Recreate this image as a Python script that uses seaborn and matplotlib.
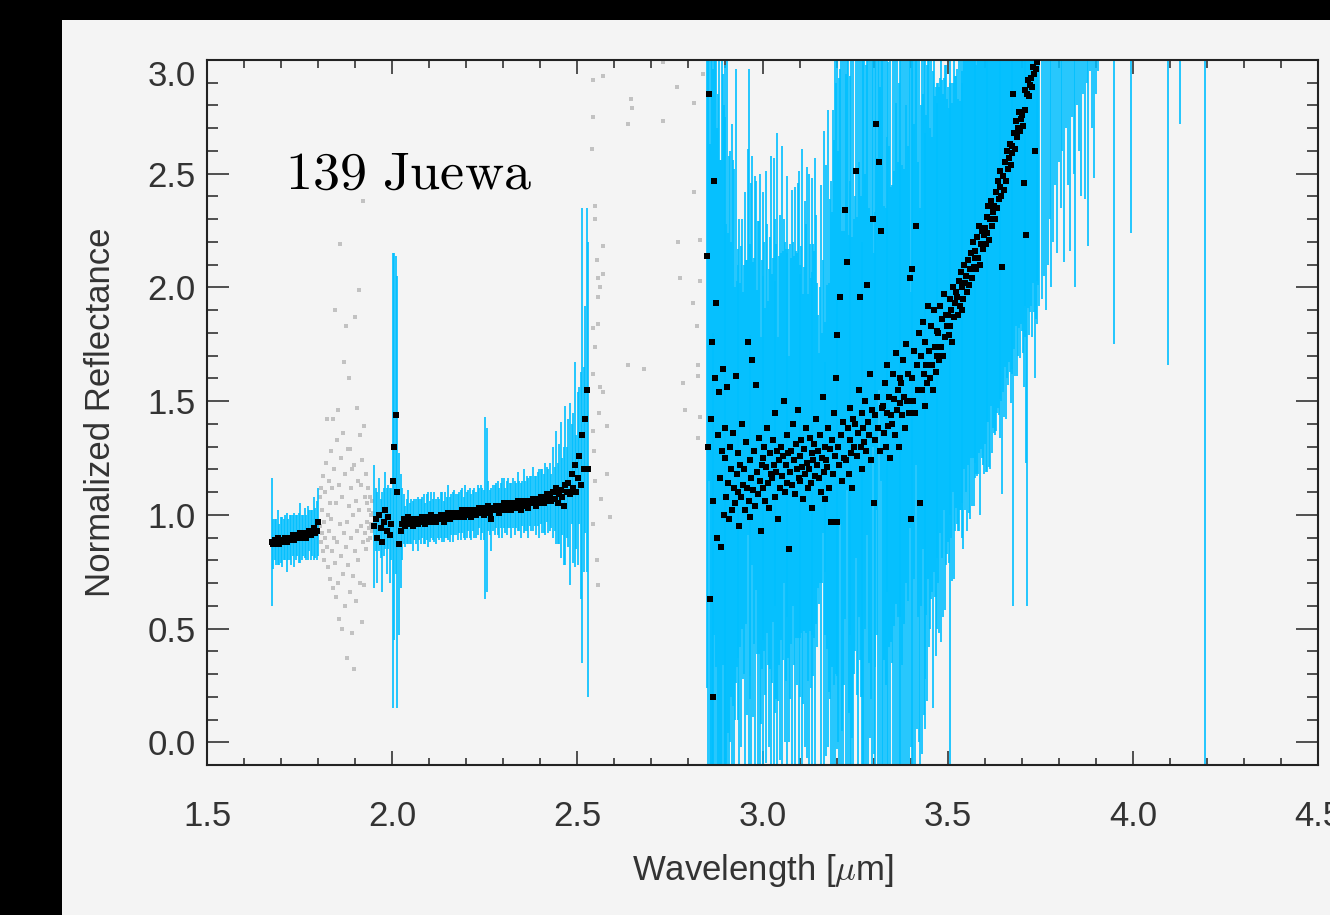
import numpy as np
import pandas as pd
import matplotlib
matplotlib.use("Agg")
import matplotlib.pyplot as plt
import seaborn as sns
from matplotlib.patches import Rectangle
from matplotlib.ticker import MultipleLocator

# ---------------- data ----------------
# segment 1 : 1.675 - 1.800 um
seg1_start, seg1_stop = 1.675, 1.800
r1 = [0.88, 0.87, 0.89, 0.88, 0.90, 0.87, 0.89, 0.88, 0.89, 0.90, 0.88, 0.89, 0.90, 0.89, 0.91, 0.89,
      0.90, 0.91, 0.90, 0.92, 0.90, 0.91, 0.92, 0.90, 0.92, 0.93, 0.91, 0.92, 0.94, 0.92, 0.93, 0.97]
e1 = [0.28, 0.11, 0.09, 0.10, 0.12, 0.09, 0.10, 0.11, 0.09, 0.10, 0.13, 0.09, 0.10, 0.11, 0.09, 0.12,
      0.10, 0.09, 0.11, 0.13, 0.10, 0.09, 0.11, 0.10, 0.12, 0.09, 0.11, 0.10, 0.14, 0.11, 0.13, 0.15]

# excluded (grey) points 1.805 - 1.948 um
gray2_start, gray2_stop = 1.805, 1.948
g2 = [0.95, 1.08, 0.88, 1.12, 0.92, 1.02, 0.84, 1.17, 0.97, 0.80,
      1.10, 0.90, 1.23, 0.86, 1.42, 1.00, 0.77, 1.15, 0.93, 1.05,
      0.72, 1.28, 0.98, 0.84, 1.12, 0.68, 1.42, 0.90, 1.20, 0.79,
      1.90, 0.64, 1.05, 1.33, 0.88, 1.46, 0.70, 1.13, 0.54, 0.96,
      2.19, 0.82, 1.25, 0.50, 1.08, 0.74, 1.36, 0.92, 1.67, 0.60,
      1.18, 0.86, 1.83, 0.97, 0.37, 1.29, 0.78, 1.60, 1.04, 0.66,
      1.29, 0.90, 1.12, 0.48, 1.20, 0.73, 1.00, 0.32, 1.22, 0.84,
      1.87, 1.06, 0.62, 1.47, 0.93, 1.15, 0.80, 1.99, 1.02, 0.70,
      1.35, 0.95, 1.13, 0.53, 1.24, 0.88, 2.38, 1.39, 0.69, 1.08,
      0.92, 1.18, 0.85, 1.05, 0.97, 1.12, 0.89, 1.02, 0.94, 1.08,
      0.90, 1.00, 0.96, 1.06, 0.93, 1.01]

# segment 3 : 1.952 - 2.530 um
seg3_start, seg3_stop = 1.952, 2.530
r3 = [0.95, 0.98, 0.90, 1.00, 0.94, 0.88, 0.97, 1.02, 0.93, 0.99, 0.91, 0.96,
      1.15, 1.30, 1.44, 1.10, 0.87, 0.93,
      0.96, 0.98, 0.95, 0.97, 0.99, 0.96, 0.97, 0.95, 0.98, 0.97, 0.96, 0.98,
      0.97, 0.99, 0.98, 0.96, 0.99, 0.98, 0.97, 1.00, 0.98, 0.99, 0.97, 0.99,
      0.98, 1.00, 0.99, 0.97, 1.00, 0.99, 1.01, 0.98, 1.00, 0.99, 1.01, 1.00,
      0.99, 1.01, 1.00, 1.02, 0.99, 1.01, 1.00, 1.02, 1.01, 0.99, 1.02, 1.01,
      1.00, 1.02, 1.03, 1.01, 1.02, 1.00, 1.03, 1.02, 1.04, 1.01, 0.98, 1.03,
      1.02, 1.04, 1.03, 1.01, 1.04, 1.03, 1.05, 1.02, 1.03, 1.05, 1.04, 1.02,
      1.05, 1.03, 1.04, 1.06, 1.04, 1.02, 1.05, 1.06, 1.04, 1.05, 1.03, 1.06,
      1.05, 1.07, 1.06, 1.04, 1.07, 1.05, 1.08, 1.06, 1.05, 1.07, 1.09, 1.06,
      1.08, 1.06, 1.10, 1.07, 1.12, 1.05, 1.09, 1.11, 1.08, 1.04, 1.13, 1.10,
      1.14, 1.09, 1.18, 1.12, 1.22, 1.10, 1.16, 1.26, 1.13, 1.35, 1.20, 1.42, 1.55, 1.20]
e3 = [0.27, 0.14, 0.20, 0.16, 0.13, 0.22, 0.15, 0.17, 0.19, 0.14, 0.21, 0.16,
      1.00, 0.85, 0.70, 0.95, 0.40, 0.25,
      0.16, 0.11, 0.09, 0.10, 0.12, 0.09, 0.10, 0.11, 0.09, 0.10, 0.12, 0.09,
      0.10, 0.09, 0.11, 0.09, 0.10, 0.12, 0.09, 0.10, 0.09, 0.11, 0.10, 0.09,
      0.09, 0.10, 0.11, 0.09, 0.10, 0.09, 0.12, 0.10, 0.09, 0.11, 0.10, 0.09,
      0.10, 0.09, 0.11, 0.10, 0.09, 0.12, 0.10, 0.09, 0.11, 0.10, 0.09, 0.11,
      0.10, 0.11, 0.09, 0.12, 0.10, 0.11, 0.40, 0.36, 0.11, 0.10, 0.14, 0.10,
      0.11, 0.10, 0.12, 0.11, 0.10, 0.13, 0.11, 0.10, 0.12, 0.11, 0.10, 0.12,
      0.11, 0.12, 0.10, 0.13, 0.11, 0.12, 0.10, 0.14, 0.11, 0.12, 0.13, 0.11,
      0.12, 0.14, 0.11, 0.13, 0.12, 0.15, 0.12, 0.14, 0.13, 0.16, 0.12, 0.14,
      0.15, 0.12, 0.20, 0.14, 0.25, 0.18, 0.22, 0.30, 0.17, 0.26, 0.35, 0.20,
      0.28, 0.40, 0.22, 0.33, 0.45, 0.25, 0.38, 0.30, 0.50, 1.00, 0.45, 0.50, 0.80, 1.00]

# excluded (grey) points 2.54 - 2.85 um
lam4 = [2.543, 2.570, 2.543, 2.539, 2.646, 2.648, 2.638, 2.732, 2.768, 2.816, 2.840, 2.730,
        2.549, 2.549, 2.570, 2.554, 2.568, 2.557, 2.560, 2.557, 2.557, 2.541, 2.549, 2.543, 2.570,
        2.559, 2.581, 2.543, 2.549,
        2.638, 2.681, 2.786, 2.791, 2.816, 2.773, 2.830, 2.778, 2.830, 2.813, 2.824, 2.827, 2.827,
        2.830, 2.827,
        2.554, 2.557, 2.560, 2.581, 2.565, 2.587, 2.543, 2.546]
r4 = [2.91, 2.93, 2.75, 2.61, 2.83, 2.79, 2.72, 2.73, 2.88, 2.81, 2.94, 2.99,
      2.36, 2.30, 2.18, 2.12, 2.06, 2.04, 2.00, 1.96, 1.84, 1.82, 1.74, 1.62, 1.54,
      1.45, 1.39, 1.37, 1.15,
      1.66, 1.64, 1.58, 1.46, 2.42, 2.20, 2.21, 2.04, 2.03, 1.93, 1.83, 1.66, 1.61,
      1.43, 1.34,
      0.80, 0.69, 1.56, 1.18, 1.07, 0.99, 0.96, 1.28]

# segment 5 : 2.850 - 3.7475 um
seg5_start, seg5_stop = 2.850, 3.7475
r5 = [2.14, 1.30, 2.85, 0.63, 1.42, 1.76, 0.20, 1.06, 2.47, 1.60,
      1.93, 0.90, 1.35, 1.54, 1.16, 0.86, 1.28, 1.64, 1.00, 1.38,
      1.25, 1.08, 1.56, 1.14, 0.98, 1.30, 1.20, 1.02, 1.36, 1.12,
      1.05, 1.61, 1.18, 1.10, 1.27, 0.95, 1.22, 1.08, 1.40, 1.13,
      1.20, 1.02, 1.32, 1.12, 1.76, 1.06, 1.24, 0.99, 1.16, 1.68,
      1.11, 1.28, 1.04, 1.57, 1.19, 1.09, 1.34, 1.15, 0.93, 1.22,
      1.25, 1.12, 1.30, 1.06, 1.21, 1.38, 1.14, 1.03, 1.27, 1.18,
      1.16, 1.33, 1.22, 1.08, 1.45, 1.19, 1.28, 0.98, 1.24, 1.12,
      1.30, 1.17, 1.26, 1.50, 1.10, 1.22, 1.35, 1.14, 1.27, 0.85,
      1.19, 1.28, 1.13, 1.40, 1.24, 1.09, 1.31, 1.20, 1.46, 1.16,
      1.26, 1.15, 1.33, 1.21, 1.07, 1.29, 1.18, 1.38, 1.23, 1.12,
      1.20, 1.34, 1.14, 1.27, 1.03, 1.24, 1.31, 1.17, 1.42, 1.22,
      1.28, 1.16, 1.35, 1.10, 1.25, 1.52, 1.19, 1.30, 1.07, 1.24,
      1.21, 1.38, 1.12, 1.29, 0.97, 1.33, 1.18, 1.45, 1.26, 1.60,
      1.79, 0.97, 1.30, 1.22, 1.96, 1.35, 1.15, 1.41, 1.25, 2.34,
      1.24, 2.11, 1.38, 1.18, 1.33, 1.47, 1.27, 1.12, 1.42, 1.30,
      1.40, 2.51, 1.26, 1.36, 1.55, 1.96, 1.30, 1.45, 1.20, 1.38,
      1.32, 1.50, 1.28, 2.01, 1.41, 1.35, 1.62, 1.24, 1.46, 2.30,
      1.05, 1.44, 1.33, 2.72, 1.52, 1.38, 2.55, 1.28, 2.25, 1.47,
      1.48, 1.36, 1.58, 1.30, 1.45, 1.66, 1.39, 1.52, 1.25, 1.44,
      1.40, 1.62, 1.51, 1.35, 1.71, 1.46, 1.55, 1.30, 1.60, 1.49,
      1.58, 1.44, 1.68, 1.52, 1.38, 1.75, 1.50, 1.62, 1.45, 2.04,
      0.98, 1.60, 2.08, 1.50, 1.72, 1.45, 2.27, 1.66, 1.55, 1.80,
      1.05, 1.70, 1.55, 1.85, 1.62, 1.48, 1.76, 1.66, 1.58, 1.92,
      1.72, 1.60, 1.83, 1.66, 1.55, 1.90, 1.74, 1.63, 1.81, 1.70,
      1.80, 1.68, 1.92, 1.74, 1.86, 1.70, 1.97, 1.78, 1.88, 1.83,
      1.88, 1.79, 1.95, 1.83, 1.90, 1.76, 2.00, 1.87, 1.93, 1.98,
      1.96, 1.88, 2.03, 1.92, 2.07, 1.90, 2.00, 1.95, 2.10, 2.02,
      2.05, 1.98, 2.12, 2.01, 2.08, 2.15, 2.04, 2.20, 2.09, 2.13,
      2.16, 2.08, 2.22, 2.13, 2.27, 2.10, 2.19, 2.25, 2.17, 2.23,
      2.26, 2.19, 2.31, 2.24, 2.36, 2.21, 2.30, 2.38, 2.27, 2.33,
      2.36, 2.30, 2.42, 2.35, 2.47, 2.39, 2.44, 2.51, 2.40, 2.09,
      2.49, 2.43, 2.55, 2.47, 2.60, 2.52, 2.57, 2.63, 2.54, 2.59,
      2.62, 2.85, 2.68, 2.61, 2.73, 2.66, 2.70, 2.77, 2.69, 2.74,
      2.76, 2.71, 2.46, 2.78, 2.87, 2.23, 2.85, 2.91, 2.84, 2.89,
      2.92, 2.88, 2.97, 2.94, 2.60, 2.96, 3.03, 2.99, 3.06, 3.02]
e5 = [1.90, 2.10, 1.70, 2.00, 1.80, 2.20, 1.60, 1.90, 2.00, 1.75,
      1.60, 1.80, 1.50, 2.00, 1.40, 1.70, 1.90, 1.30, 1.80, 1.60,
      1.50, 1.20, 1.90, 1.10, 1.60, 1.30, 1.00, 1.70, 1.20, 1.40,
      0.95, 1.35, 0.85, 1.00, 0.90, 1.35, 0.80, 1.10, 0.90, 0.85,
      0.90, 1.40, 0.80, 1.00, 0.85, 1.90, 0.95, 0.80, 1.30, 0.90,
      1.00, 0.85, 1.45, 0.90, 0.80, 1.20, 0.95, 1.35, 0.85, 0.90,
      0.80, 1.30, 0.90, 0.85, 1.30, 0.90, 0.80, 1.05, 0.95, 1.40,
      0.90, 0.80, 1.35, 0.95, 0.85, 1.00, 1.40, 0.80, 0.90, 1.20,
      0.85, 1.45, 0.90, 0.80, 1.10, 0.95, 0.80, 1.35, 0.90, 0.85,
      1.00, 0.85, 1.30, 0.80, 0.90, 1.35, 0.85, 0.95, 1.00, 1.35,
      0.80, 0.95, 0.85, 1.40, 0.90, 0.80, 1.20, 0.90, 1.30, 0.85,
      1.30, 0.85, 0.90, 0.80, 1.45, 0.95, 0.85, 1.40, 0.90, 0.80,
      0.60, 0.55, 0.65, 1.35, 0.55, 0.60, 1.50, 0.55, 0.60, 1.30,
      0.80, 1.40, 0.90, 1.10, 1.50, 1.00, 1.60, 1.20, 1.80, 1.30,
      1.50, 1.00, 1.30, 1.70, 1.00, 1.90, 1.10, 1.70, 1.00, 1.80,
      1.70, 1.00, 1.80, 1.05, 1.60, 1.00, 1.90, 1.10, 1.70, 1.00,
      1.00, 1.70, 1.05, 1.80, 1.00, 1.60, 1.10, 1.90, 1.00, 1.70,
      1.80, 1.00, 1.70, 1.10, 1.90, 1.00, 1.60, 1.05, 1.80, 1.00,
      1.10, 1.90, 1.00, 1.70, 1.05, 1.80, 1.00, 1.60, 1.10, 1.90,
      1.70, 1.00, 1.90, 1.05, 1.80, 1.00, 1.60, 1.10, 1.90, 1.00,
      1.05, 1.80, 1.00, 1.70, 1.10, 1.90, 1.00, 1.60, 1.05, 1.80,
      1.70, 1.10, 1.90, 1.00, 1.80, 1.05, 1.60, 1.00, 1.90, 1.10,
      1.00, 1.80, 1.10, 1.70, 1.00, 1.90, 1.05, 1.60, 1.00, 1.80,
      1.30, 1.10, 1.60, 1.00, 1.50, 1.20, 1.70, 1.10, 1.40, 1.20,
      1.30, 1.10, 1.20, 1.00, 1.40, 1.15, 1.10, 1.25, 1.00, 1.20,
      1.10, 1.20, 1.00, 1.30, 1.05, 1.15, 0.95, 1.20, 1.10, 1.00,
      1.00, 1.00, 0.95, 2.00, 1.00, 1.05, 0.90, 1.15, 1.00, 0.95,
      1.00, 0.95, 1.10, 0.90, 1.05, 1.00, 0.95, 1.10, 0.90, 1.00,
      0.95, 1.05, 0.90, 1.00, 1.10, 0.90, 1.00, 0.95, 1.05, 0.90,
      1.00, 0.90, 1.05, 0.95, 1.00, 1.10, 0.90, 1.00, 0.95, 1.05,
      0.95, 1.00, 0.90, 1.05, 0.95, 1.00, 1.10, 0.90, 1.00, 0.95,
      1.00, 0.95, 1.05, 0.90, 1.00, 0.95, 1.10, 1.00, 0.90, 1.00,
      0.95, 1.00, 0.90, 1.05, 1.00, 0.95, 0.90, 1.00, 1.05, 0.95,
      1.00, 2.25, 0.95, 1.00, 0.90, 1.05, 1.00, 0.95, 1.00, 0.90,
      0.95, 1.00, 0.90, 1.00, 0.95, 1.00, 2.25, 1.00, 1.05, 1.00,
      1.00, 1.10, 0.95, 1.05, 1.00, 1.10, 1.00, 1.15, 1.05, 1.10]

# segment 6 : points above the plotted range, only their error bars show
lam6 = [3.755, 3.760, 3.765, 3.770, 3.775, 3.780, 3.785, 3.790, 3.795, 3.800, 3.805,
        3.810, 3.815, 3.820, 3.825, 3.830, 3.835, 3.840, 3.845, 3.850, 3.855, 3.860,
        3.865, 3.870, 3.875, 3.880, 3.885, 3.890, 3.895, 3.900, 3.905,
        3.950, 3.995, 4.095, 4.127, 4.195]
r6 = [3.03, 3.05, 3.04, 3.09, 3.11, 3.10, 3.15, 3.17, 3.16, 3.21, 3.23,
      3.22, 3.27, 3.29, 3.28, 3.33, 3.35, 3.34, 3.39, 3.41, 3.40, 3.45,
      3.47, 3.46, 3.51, 3.53, 3.52, 3.57, 3.59, 3.58, 3.63,
      3.70, 3.60, 3.50, 3.80, 3.40]
e6 = [1.08, 1.00, 1.14, 0.99, 0.81, 1.10, 0.95, 0.72, 1.01, 0.66, 0.88,
      0.62, 1.16, 0.59, 0.83, 1.17, 0.60, 0.84, 1.39, 0.61, 0.80, 1.05,
      0.62, 1.07, 0.61, 1.35, 0.57, 0.87, 1.11, 0.73, 0.68,
      1.95, 1.36, 1.84, 1.08, 3.60]

target_name = r"$\mathrm{139\ Juewa}$"
x_label = r"Wavelength [$\mu$m]"
y_label = "Normalized Reflectance"

# ---------------- assemble ----------------
spec = pd.concat([
    pd.DataFrame({"lam": np.linspace(seg1_start, seg1_stop, len(r1)), "R": r1, "err": e1}),
    pd.DataFrame({"lam": np.linspace(seg3_start, seg3_stop, len(r3)), "R": r3, "err": e3}),
    pd.DataFrame({"lam": np.linspace(seg5_start, seg5_stop, len(r5)), "R": r5, "err": e5}),
    pd.DataFrame({"lam": lam6, "R": r6, "err": e6}),
], ignore_index=True)
excluded = pd.concat([
    pd.DataFrame({"lam": np.linspace(gray2_start, gray2_stop, len(g2)), "R": g2}),
    pd.DataFrame({"lam": lam4, "R": r4}),
], ignore_index=True)

# ---------------- figure ----------------
plt.rcParams["font.family"] = ["Liberation Sans", "DejaVu Sans"]
plt.rcParams["mathtext.fontset"] = "cm"

BG = "#f4f4f4"
TXT = "#333333"
FS = 25
fig = plt.figure(figsize=(13.3, 9.15), dpi=100, facecolor="black")
fig.patches.append(Rectangle((62 / 1330, 0), 1, (915 - 20) / 915, transform=fig.transFigure,
                             facecolor=BG, edgecolor="none", zorder=-10))
ax = fig.add_axes([207 / 1330, 150 / 915, 1111 / 1330, 705 / 915])
ax.set_facecolor(BG)

sns.scatterplot(data=excluded, x="lam", y="R", ax=ax, marker="s", s=12, color="#c2c2c2",
                linewidth=0, zorder=1, legend=False)
ax.vlines(spec["lam"], spec["R"] - spec["err"], spec["R"] + spec["err"],
          color="#00bfff", linewidth=1.2, zorder=2)
sns.scatterplot(data=spec, x="lam", y="R", ax=ax, marker="s", s=14, color="black",
                linewidth=0, zorder=3, legend=False)

ax.set_xlim(1.5, 4.5)
ax.set_ylim(-0.1, 3.0)
ax.set_xticks([1.5, 2.0, 2.5, 3.0, 3.5, 4.0, 4.5])
ax.set_xticklabels(["1.5", "2.0", "2.5", "3.0", "3.5", "4.0", "4.5"])
ax.set_yticks([0.0, 0.5, 1.0, 1.5, 2.0, 2.5, 3.0])
ax.set_yticklabels(["0.0", "0.5", "1.0", "1.5", "2.0", "2.5", "3.0"])
ax.xaxis.set_minor_locator(MultipleLocator(0.1))
ax.yaxis.set_minor_locator(MultipleLocator(0.1))

ax.tick_params(axis="x", which="major", direction="in", length=10, width=1.1, top=True,
               bottom=True, labelsize=FS, labelcolor=TXT, pad=25, color="#222222")
ax.tick_params(axis="x", which="minor", direction="in", length=5.4, width=1.1, top=True,
               bottom=True, color="#222222")
ax.tick_params(axis="y", which="major", direction="in", length=15.8, width=1.1, left=True,
               right=True, labelsize=FS, labelcolor=TXT, pad=8, color="#222222")
ax.tick_params(axis="y", which="minor", direction="in", length=7.9, width=1.1, left=True,
               right=True, color="#222222")
for lbl in ax.get_yticklabels():
    if lbl.get_text() == "3.0":
        lbl.set_verticalalignment("top")

for sp in ax.spines.values():
    sp.set_linewidth(1.5)
    sp.set_color("#222222")

ax.set_xlabel(x_label, fontsize=FS, color=TXT, labelpad=14)
ax.set_ylabel(y_label, fontsize=FS, color=TXT, labelpad=22)

ax.text(1.711, 2.434, target_name, fontsize=39, color="black", ha="left", va="baseline", zorder=5)

fig.savefig("out.png", dpi=100, facecolor=fig.get_facecolor())
